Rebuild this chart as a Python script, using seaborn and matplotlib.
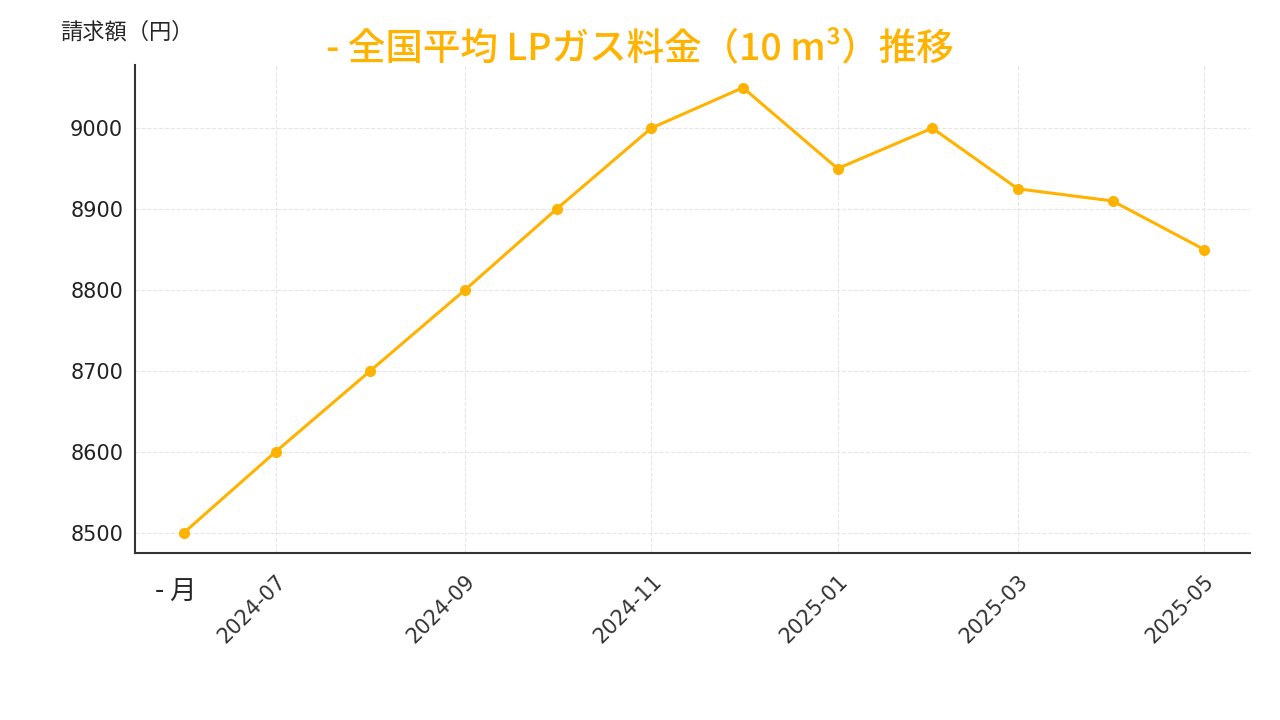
import pandas as pd
import matplotlib.pyplot as plt
import matplotlib.dates as mdates
import seaborn as sns

months = pd.date_range("2024-06-01", "2025-05-01", freq="MS")
price = [8500, 8600, 8700, 8800, 8900, 9000, 9050, 8950, 9000, 8925, 8910, 8850]
df = pd.DataFrame({"month": months, "price": price})

sns.set_style("white")
plt.rcParams['font.family'] = ['Noto Sans CJK JP', 'DejaVu Sans']
color = "#FFB300"

fig = plt.figure(figsize=(12.8, 7.2), dpi=100)
ax = fig.add_axes([135/1280, 1 - 553/720, (1250-135)/1280, (553-65)/720])
sns.lineplot(data=df, x="month", y="price", color=color, linewidth=2.2,
             marker="o", markersize=8, markeredgewidth=0, ax=ax)

ax.set_xlim(pd.Timestamp("2024-05-16"), pd.Timestamp("2025-05-16"))
ax.set_ylim(8475, 9078)
ax.set_yticks([8500, 8600, 8700, 8800, 8900, 9000])
ax.xaxis.set_major_locator(mdates.MonthLocator(bymonth=[1, 3, 5, 7, 9, 11]))
ax.xaxis.set_major_formatter(mdates.DateFormatter("%Y-%m"))
ax.tick_params(axis="both", labelsize=15, colors="#222222", direction="out", length=5, width=1,
               labelfontfamily="DejaVu Sans")
ax.tick_params(axis="x", labelcolor="#333333", pad=8, labelrotation=45)
for lbl in ax.get_xticklabels():
    lbl.set_ha("right")
    lbl.set_rotation_mode("anchor")
ax.grid(True, linestyle="--", color="#e6e6e6", linewidth=0.8)
for s in ["top", "right"]:
    ax.spines[s].set_visible(False)
for s in ["left", "bottom"]:
    ax.spines[s].set_color("#333333")
    ax.spines[s].set_linewidth(1.5)
ax.set_xlabel("")
ax.set_ylabel("")

fig.text(60/1280, 1 - 32/720, "請求額（円）", fontsize=16, va="center", ha="left")
fig.text(155/1280, 1 - 592/720, "- 月", fontsize=19, va="center", ha="left")
fig.text(640/1280, 1 - 48/720, "- 全国平均 LPガス料金（10 m³）推移", fontsize=27,
         color=color, fontweight="medium", va="center", ha="center")

fig.savefig("out.png", dpi=100)
